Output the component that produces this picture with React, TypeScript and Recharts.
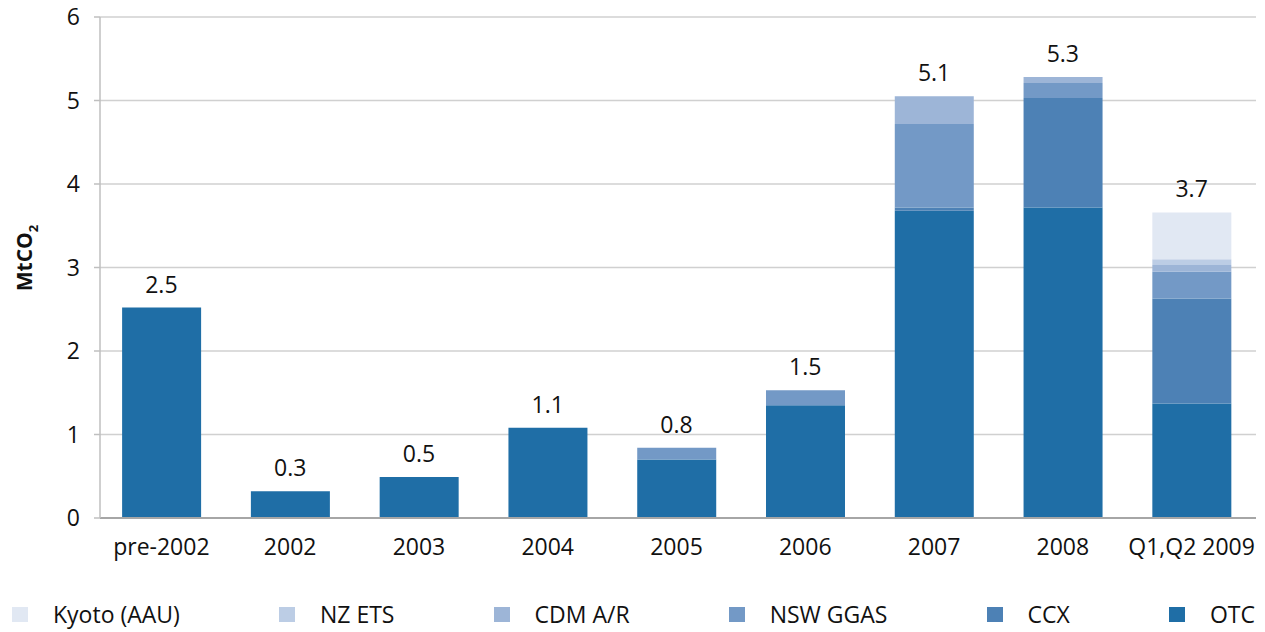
import React from 'react';
import { ComposedChart, Bar, Line, XAxis, YAxis, CartesianGrid, LabelList } from 'recharts';

const categories = ['pre-2002', '2002', '2003', '2004', '2005', '2006', '2007', '2008', 'Q1,Q2 2009'];
const otc = [2.52, 0.32, 0.49, 1.08, 0.7, 1.35, 3.68, 3.72, 1.37];
const ccx = [0, 0, 0, 0, 0, 0, 0.04, 1.31, 1.26];
const nswGgas = [0, 0, 0, 0, 0.14, 0.18, 1.0, 0.18, 0.32];
const cdmAr = [0, 0, 0, 0, 0, 0, 0.33, 0.07, 0.08];
const nzEts = [0, 0, 0, 0, 0, 0, 0, 0, 0.07];
const kyoto = [0, 0, 0, 0, 0, 0, 0, 0, 0.56];
const totals = ['2.5', '0.3', '0.5', '1.1', '0.8', '1.5', '5.1', '5.3', '3.7'];
const yTicks = [0, 1, 2, 3, 4, 5, 6];

const series = [
    { key: 'OTC', values: otc, color: '#1f6ea6' },
    { key: 'CCX', values: ccx, color: '#4d81b5' },
    { key: 'NSW GGAS', values: nswGgas, color: '#7399c6' },
    { key: 'CDM A/R', values: cdmAr, color: '#9db5d7' },
    { key: 'NZ ETS', values: nzEts, color: '#bccde5' },
    { key: 'Kyoto (AAU)', values: kyoto, color: '#e1e8f3' },
];

const data = categories.map((name, i) => {
    const row: any = { name, total: totals[i], top: 0 };
    series.forEach((s) => {
        row[s.key] = s.values[i];
        row.top += s.values[i];
    });
    return row;
});

const FONT = '"Open Sans", "Noto Sans", sans-serif';

const TotalLabel = (props: any) => {
    const { x, y, index } = props;
    return (
        <text x={x} y={y - 15} textAnchor="middle" fontSize={23} fill="#111" fontFamily={FONT}>
            {totals[index]}
        </text>
    );
};

const YLabel = () => (
    <text transform="translate(32,258) rotate(-90)" textAnchor="middle" fontSize={21} fontWeight="bold" fill="#111" fontFamily={FONT}>
        MtCO<tspan fontSize={13} dy={6}>2</tspan>
    </text>
);

const legendOrder = [...series].reverse();

const App: React.FC = () => {
    return (
        <div style={{ margin: '-8px -8px 0 -8px', width: 1265, height: 632, background: '#fff', position: 'relative', fontFamily: FONT }}>
            <ComposedChart width={1265} height={600} data={data} margin={{ top: 17, right: 9, left: 0, bottom: 42 }} barCategoryGap="19.5%">
                <CartesianGrid horizontal vertical={false} stroke="#d0d0d0" strokeWidth={1.5} />
                <XAxis
                    dataKey="name"
                    height={40}
                    tickLine={false}
                    axisLine={{ stroke: '#a6a6a6', strokeWidth: 2 }}
                    tick={{ fill: '#111', fontSize: 23, fontFamily: FONT }}
                    tickMargin={15}
                    interval={0}
                    padding={{ left: -3, right: 0 }}
                />
                <YAxis
                    width={100}
                    domain={[0, 6]}
                    ticks={yTicks}
                    axisLine={{ stroke: '#bfbfbf', strokeWidth: 1.5 }}
                    tickLine={{ stroke: '#bfbfbf', strokeWidth: 1.5 }}
                    tickSize={6}
                    tickMargin={14}
                    tick={{ fill: '#111', fontSize: 23, fontFamily: FONT }}
                    label={<YLabel />}
                />
                {series.map((s) => (
                    <Bar key={s.key} dataKey={s.key} stackId="a" fill={s.color} isAnimationActive={false} />
                ))}
                <Line dataKey="top" stroke="none" dot={false} activeDot={false} isAnimationActive={false}>
                    <LabelList dataKey="total" content={<TotalLabel />} />
                </Line>
            </ComposedChart>
            <div style={{ position: 'absolute', left: 12, right: 10, top: 599, height: 30, lineHeight: '30px', display: 'flex', justifyContent: 'space-between', alignItems: 'center' }}>
                {legendOrder.map((s) => (
                    <div key={s.key} style={{ display: 'flex', alignItems: 'center', fontSize: 23, color: '#111' }}>
                        <span style={{ display: 'inline-block', width: 16, height: 15, background: s.color, marginRight: 25 }} />
                        <span>{s.key}</span>
                    </div>
                ))}
            </div>
        </div>
    );
};

export default App;
